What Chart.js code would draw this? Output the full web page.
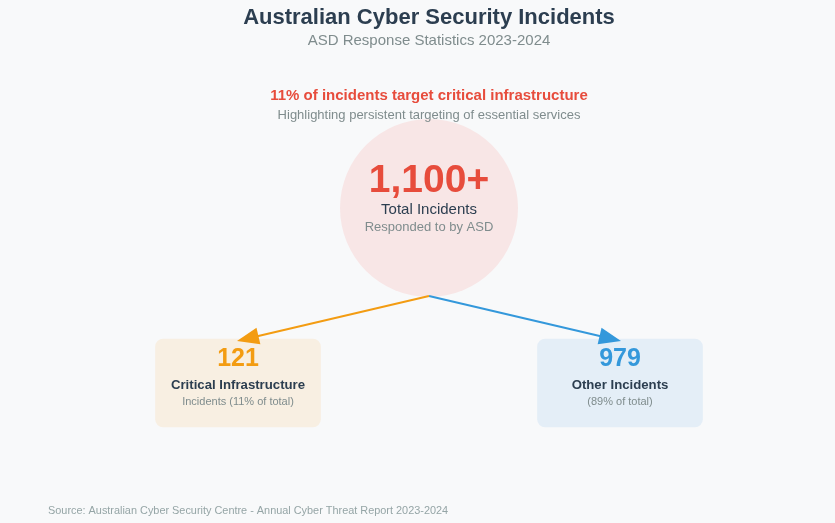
<!DOCTYPE html>
<html>
<head>
<meta charset="utf-8">
<script src="https://cdn.jsdelivr.net/npm/chart.js@4/dist/chart.umd.min.js"></script>
<style>
  html, body { margin: 0; padding: 0; background: #f8f9fa; }
  #wrap { width: 835px; height: 523px; position: relative; }
</style>
</head>
<body>
<div id="wrap"><canvas id="c" width="835" height="523"></canvas></div>
<script>
// ---- data ----
const categories = ['Critical Infrastructure', 'Other Incidents'];
const incidentCounts = [121, 979];
const totalIncidents = 1100;
const sharePercent = [11, 89];
const shareLabels = ['Incidents (11% of total)', '(89% of total)'];
const titleText = 'Australian Cyber Security Incidents';
const subtitleText = 'ASD Response Statistics 2023-2024';
const headlineText = '11% of incidents target critical infrastructure';
const headlineSub = 'Highlighting persistent targeting of essential services';
const totalLabel = 'Total Incidents';
const totalSub = 'Responded to by ASD';
const sourceText = 'Source: Australian Cyber Security Centre - Annual Cyber Threat Report 2023-2024';

// ---- layout (pixel-space scale units) ----
const W = 835, H = 523;
const hub = { x: 429, y: 208, r: 89 };
const boxX = [238, 620];
const boxTop = 339, boxBottom = 427, boxW = 165;
const arrowStart = { x: 429, y: 296 };
const arrowTips = [{ x: 237, y: 341 }, { x: 621, y: 341 }];
const colors = ['#f39c12', '#3498db'];
const boxFill = ['#f8efe2', '#e4eef7'];
const red = '#e74c3c';
const FONT = '"Liberation Sans", Arial, Helvetica, sans-serif';

const textPlugin = {
  id: 'texts',
  afterDatasetsDraw(chart) {
    const ctx = chart.ctx;
    const xs = chart.scales.x, ys = chart.scales.y;
    const px = v => xs.getPixelForValue(v), py = v => ys.getPixelForValue(v);

    // arrowheads
    chart.data.datasets.forEach((ds, i) => {
      if (!ds.arrow) return;
      const meta = chart.getDatasetMeta(i);
      const p0 = meta.data[0], p1 = meta.data[meta.data.length - 1];
      const ang = Math.atan2(p1.y - p0.y, p1.x - p0.x);
      const L = 22, Wd = 8.5;
      ctx.save();
      ctx.translate(p1.x, p1.y);
      ctx.rotate(ang);
      ctx.beginPath();
      ctx.moveTo(0, 0);
      ctx.lineTo(-L, -Wd);
      ctx.lineTo(-L, Wd);
      ctx.closePath();
      ctx.fillStyle = ds.borderColor;
      ctx.fill();
      ctx.restore();
    });

    ctx.save();
    ctx.textBaseline = 'middle';
    const t = (s, x, y, font, color, align) => {
      ctx.font = font; ctx.fillStyle = color;
      ctx.textAlign = align || 'center';
      ctx.fillText(s, px(x), py(y));
    };
    t(titleText, 429, 17.5, 'bold 22px ' + FONT, '#2c3e50');
    t(subtitleText, 429, 40.5, '15px ' + FONT, '#7f8c8d');
    t(headlineText, 429, 96, 'bold 15px ' + FONT, red);
    t(headlineSub, 429, 115.5, '13px ' + FONT, '#7f8c8d');

    t(totalIncidents.toLocaleString('en-US') + '+', hub.x, 181, 'bold 39px ' + FONT, red);
    t(totalLabel, hub.x, 209.5, '15px ' + FONT, '#2c3e50');
    t(totalSub, hub.x, 227, '13px ' + FONT, '#7f8c8d');

    categories.forEach((c, i) => {
      t(String(incidentCounts[i]), boxX[i], 359.5, 'bold 25px ' + FONT, colors[i]);
      t(c, boxX[i], 385, 'bold 13.2px ' + FONT, '#2c3e50');
      t(shareLabels[i], boxX[i], 401.5, '11px ' + FONT, '#7f8c8d');
    });

    t(sourceText, 48, 510.5, '10.9px ' + FONT, '#95a5a6', 'left');
    ctx.restore();
  }
};

new Chart(document.getElementById('c'), {
  type: 'scatter',
  data: {
    datasets: [
      {
        type: 'bar',
        label: 'Breakdown',
        data: categories.map((c, i) => ({ x: boxX[i], y: [boxTop, boxBottom] })),
        backgroundColor: boxFill,
        borderWidth: 0,
        borderRadius: 8,
        borderSkipped: false,
        barThickness: boxW,
        grouped: false,
        order: 1
      },
      {
        type: 'line',
        label: categories[0],
        arrow: true,
        data: [arrowStart, arrowTips[0]],
        borderColor: colors[0],
        borderWidth: 2,
        pointRadius: 0,
        fill: false,
        order: 2
      },
      {
        type: 'line',
        label: categories[1],
        arrow: true,
        data: [arrowStart, arrowTips[1]],
        borderColor: colors[1],
        borderWidth: 2,
        pointRadius: 0,
        fill: false,
        order: 2
      },
      {
        type: 'scatter',
        label: 'Total incidents',
        data: [{ x: hub.x, y: hub.y }],
        pointRadius: hub.r,
        pointHoverRadius: hub.r,
        backgroundColor: '#f8e6e6',
        borderWidth: 0,
        order: 3
      }
    ]
  },
  options: {
    responsive: false,
    animation: false,
    layout: { padding: 0, autoPadding: false },
    plugins: { legend: { display: false }, tooltip: { enabled: false } },
    events: [],
    scales: {
      x: { type: 'linear', min: 0, max: W, display: false, offset: false },
      y: { type: 'linear', min: 0, max: H, reverse: true, display: false, offset: false }
    }
  },
  plugins: [textPlugin]
});
</script>
</body>
</html>
